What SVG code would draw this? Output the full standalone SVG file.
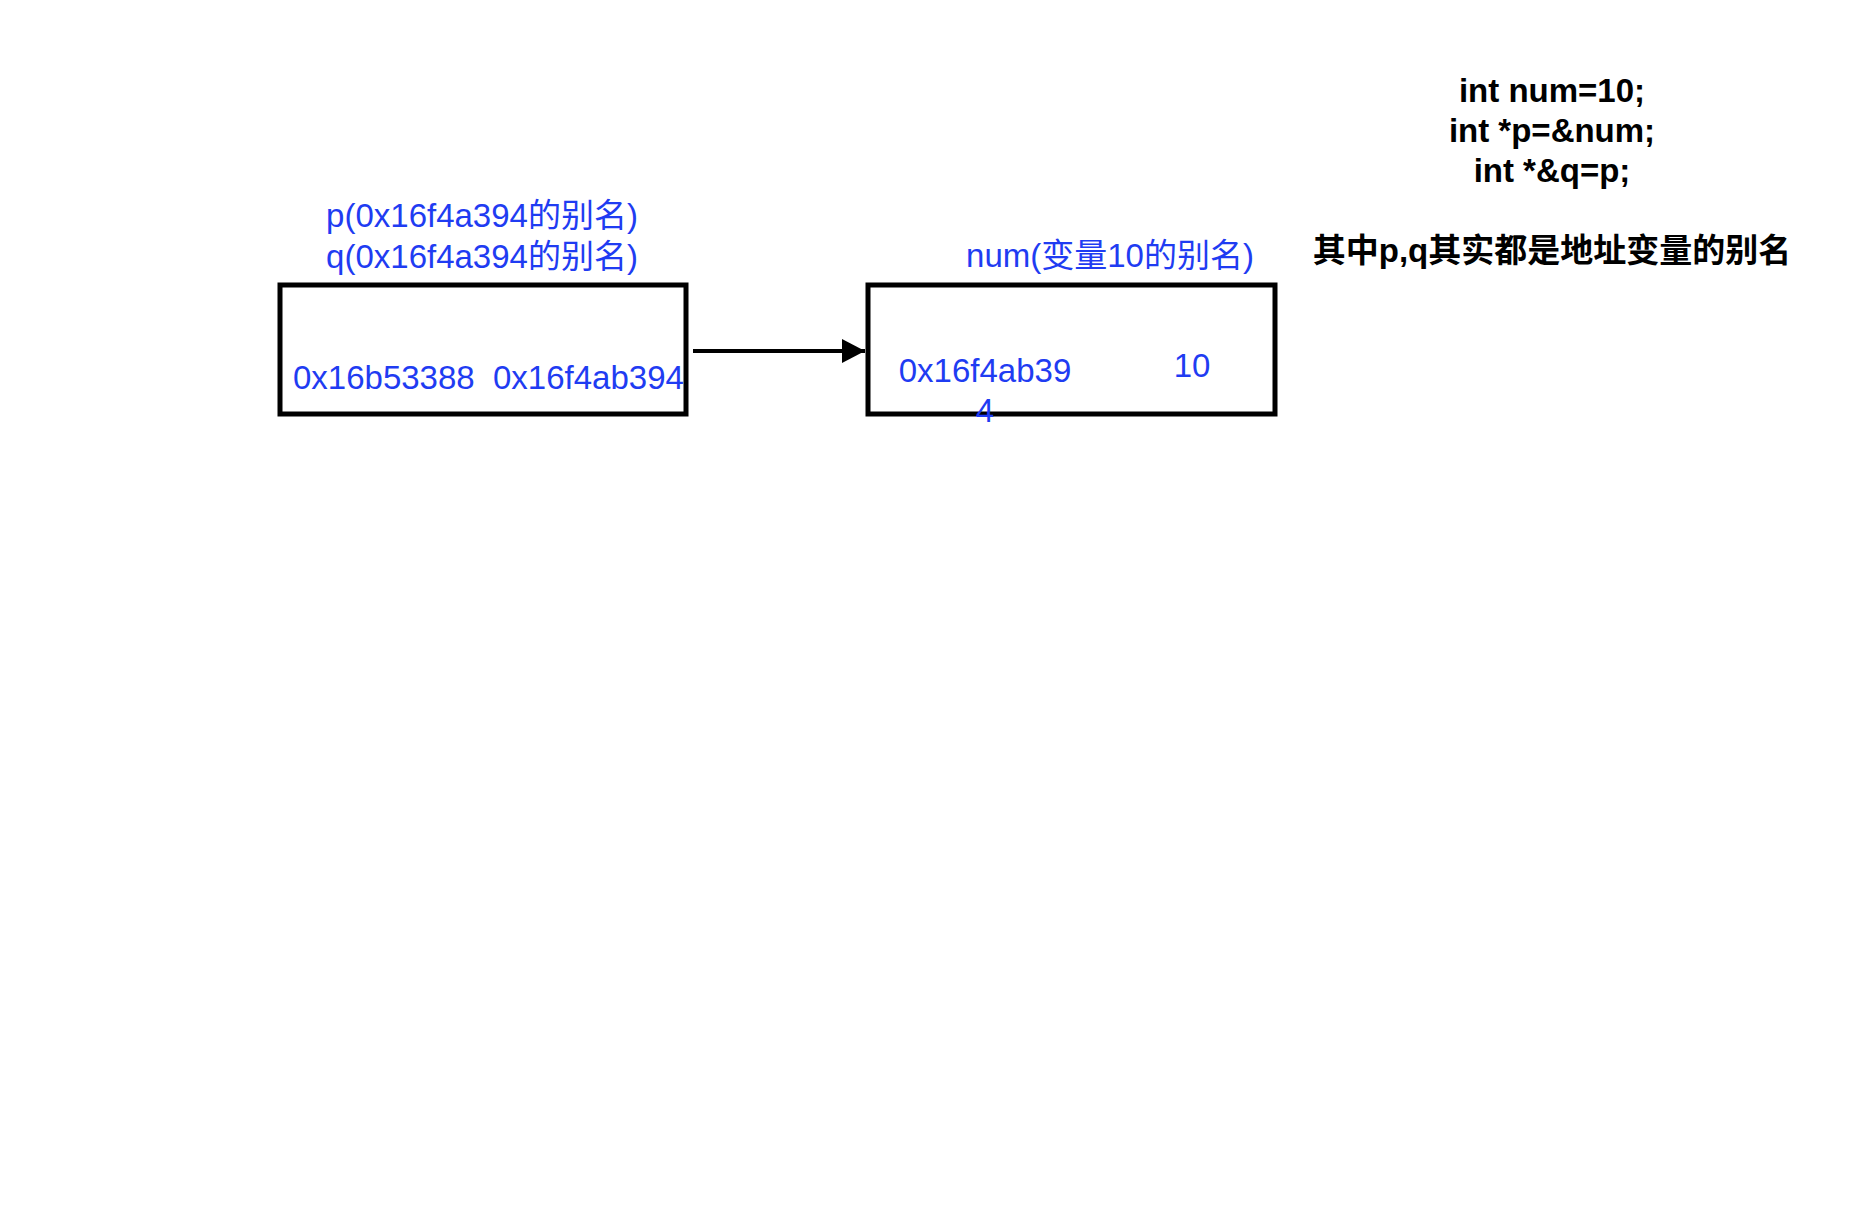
<svg xmlns="http://www.w3.org/2000/svg" width="1874" height="1208" viewBox="0 0 1874 1208">
  <defs>
    <style>
      .box { fill: #ffffff; stroke: #000000; stroke-width: 5; }
      .blue { fill: #1f3cf2; font-family: "Liberation Sans", "Noto Sans CJK SC", Arial, sans-serif; font-size: 33px; }
      .code { fill: #000000; font-family: "Liberation Sans", "Noto Sans CJK SC", Arial, sans-serif; font-size: 33px; font-weight: bold; text-anchor: middle; }
      .edge { fill: none; stroke: #000000; stroke-width: 4; }
    </style>
    <marker id="arrow" markerUnits="userSpaceOnUse" markerWidth="26" markerHeight="26" refX="23" refY="12" orient="auto">
      <path d="M0,0 L23,12 L0,24 Z" fill="#000000"/>
    </marker>
  </defs>
  <rect width="1874" height="1208" fill="#ffffff"/>

  <g id="pointer-node">
    <text class="blue" x="482" y="227" text-anchor="middle">p(0x16f4a394的别名)</text>
    <text class="blue" x="482" y="268" text-anchor="middle">q(0x16f4a394的别名)</text>
    <rect class="box" x="280" y="285" width="406" height="129"/>
    <text class="blue" x="293" y="389" xml:space="preserve">0x16b53388  0x16f4ab394</text>
  </g>

  <g id="num-node">
    <text class="blue" x="1110" y="267" text-anchor="middle">num(变量10的别名)</text>
    <rect class="box" x="868" y="285" width="407" height="129"/>
    <text class="blue" x="985" y="382" text-anchor="middle">0x16f4ab39</text>
    <text class="blue" x="985" y="422" text-anchor="middle">4</text>
    <text class="blue" x="1192" y="377" text-anchor="middle">10</text>
  </g>

  <g id="code-note">
    <text class="code" x="1552" y="102">int num=10;</text>
    <text class="code" x="1552" y="142">int *p=&amp;num;</text>
    <text class="code" x="1552" y="182">int *&amp;q=p;</text>
    <text class="code" x="1552" y="262">其中p,q其实都是地址变量的别名</text>
  </g>

  <g id="connectors">
    <line class="edge" x1="693" y1="351" x2="865" y2="351" marker-end="url(#arrow)"/>
  </g>
</svg>
